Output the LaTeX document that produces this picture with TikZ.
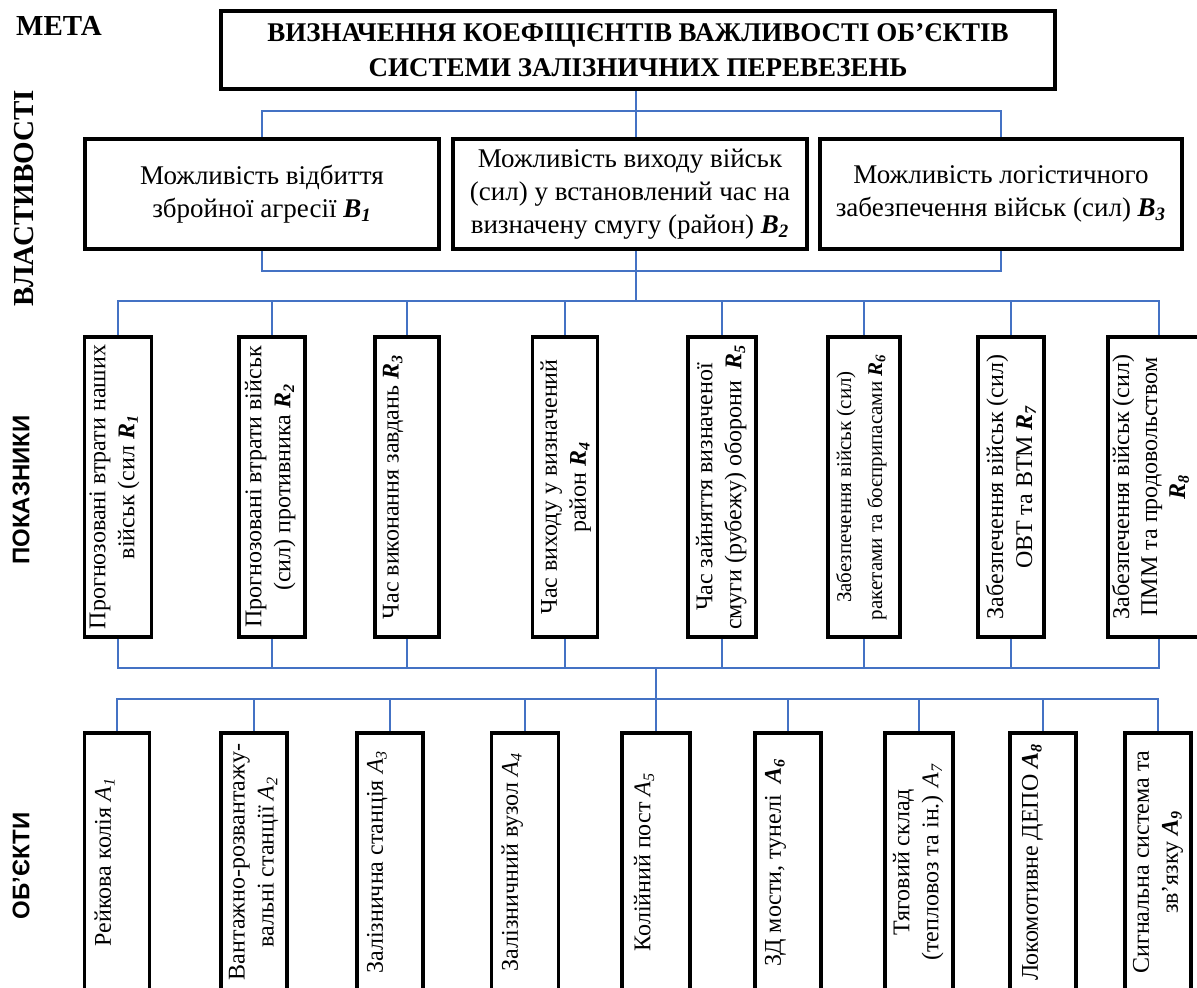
\documentclass[tikz,border=0pt]{standalone}
\usepackage{fontspec}
\usepackage{graphicx}
\setmainfont{Liberation Serif}
\newfontfamily\labelsans{Liberation Sans}

\newcommand{\Bsym}[1]{\textbf{\textit{B\textsubscript{#1}}}}
\newcommand{\Rsym}[1]{\textbf{\textit{R\textsubscript{#1}}}}
\newcommand{\Asym}[1]{\textit{A\textsubscript{#1}}}
\newcommand{\Abold}[1]{\textbf{\textit{A\textsubscript{#1}}}}
\newcommand{\vtext}[4][4pt]{\rotatebox{90}{\parbox[c][#3][t]{#2}{\centering\vspace*{#1}#4}}}

\begin{document}
\begin{tikzpicture}[x=0.5pt,y=-0.5pt,
  box/.style={draw, line width=1.8pt, inner sep=0pt, align=center},
  hbox/.style={box, font=\fontsize{13.5}{16.5}\selectfont},
  vbox/.style={box, font=\fontsize{12}{14.5}\selectfont},
  level/.style={font=\fontsize{14.5}{17}\selectfont\bfseries},
  levelsans/.style={rotate=90, font=\labelsans\fontsize{12}{14}\selectfont\bfseries},
  link/.style={draw=linkblue, line width=0.6pt}]

\definecolor{linkblue}{RGB}{68,114,196}

\useasboundingbox (0,0) rectangle (1197,987);
\clip (0,0) rectangle (1197,987);

\coordinate (J1) at (636,111);
\coordinate (J2) at (636,271);
\coordinate (J3) at (636,301);
\coordinate (J4) at (656,668);
\coordinate (J5) at (656,699);

\node[level] (meta) at (59,26) {МЕТА};
\node[level, rotate=90] (vlast) at (24,198) {ВЛАСТИВОСТІ};
\node[levelsans] (pokaz) at (21,490) {ПОКАЗНИКИ};
\node[levelsans] (obj) at (21,866) {ОБ’ЄКТИ};

\node[hbox, font=\fontsize{13.5}{17.5}\selectfont\bfseries, minimum width=417pt, minimum height=39pt] (goal) at (638,50)
  {ВИЗНАЧЕННЯ КОЕФІЦІЄНТІВ ВАЖЛИВОСТІ ОБ’ЄКТІВ\\СИСТЕМИ ЗАЛІЗНИЧНИХ ПЕРЕВЕЗЕНЬ};

\node[hbox, minimum width=177pt, minimum height=55pt] (b1) at (262,194)
  {Можливість відбиття\\збройної агресії \Bsym{1}};
\node[hbox, minimum width=177pt, minimum height=55pt] (b2) at (630,194)
  {Можливість виходу військ\\(сил) у встановлений час на\\визначену смугу (район) \Bsym{2}};
\node[hbox, minimum width=181pt, minimum height=55pt] (b3) at (1001,194)
  {Можливість логістичного\\забезпечення військ (сил) \Bsym{3}};

\node[vbox] (r1) at (118,487) {\vtext[2.5pt]{150pt}{33.5pt}{Прогнозовані втрати наших\\військ (сил \Rsym{1}}};
\node[vbox] (r2) at (272,487) {\vtext[3pt]{150pt}{33pt}{Прогнозовані втрати військ\\(сил) противника \Rsym{2}}};
\node[vbox] (r3) at (407,487) {\vtext{150pt}{32pt}{Час виконання завдань \Rsym{3}}};
\node[vbox] (r4) at (565,487) {\vtext{150pt}{32.5pt}{Час виходу у визначений\\район \Rsym{4}}};
\node[vbox] (r5) at (722,487) {\vtext{150pt}{34pt}{Час зайняття визначеної\\смуги (рубежу) оборони \ \Rsym{5}}};
\node[vbox, font=\fontsize{10.5}{15.5}\selectfont] (r6) at (864,487) {\vtext{150pt}{36pt}{Забезпечення військ (сил)\\ракетами та боєприпасами \Rsym{6}}};
\node[vbox] (r7) at (1011,487) {\vtext{150pt}{33pt}{Забезпечення військ (сил)\\ОВТ та ВТМ \Rsym{7}}};
\node[vbox, font=\fontsize{12}{14}\selectfont] (r8) at (1159,487) {\vtext[2pt]{150pt}{51pt}{Забезпечення військ (сил)\\ПММ та продовольством\\\Rsym{8}}};

\node[vbox] (a1) at (117,862) {\vtext[5pt]{129pt}{32.5pt}{Рейкова колія \Asym{1}}};
\node[vbox] (a2) at (254,862) {\vtext{129pt}{33pt}{Вантажно-розвантажу-\\вальні станції \Asym{2}}};
\node[vbox] (a3) at (390,862) {\vtext[5pt]{129pt}{33pt}{Залізнична станція \Asym{3}}};
\node[vbox] (a4) at (525,862) {\vtext[5pt]{129pt}{33.5pt}{Залізничний вузол \Asym{4}}};
\node[vbox] (a5) at (656,862) {\vtext[6pt]{129pt}{34pt}{Колійний пост \Asym{5}}};
\node[vbox] (a6) at (788,862) {\vtext[5pt]{129pt}{33pt}{ЗД мости, тунелі \ \Abold{6}}};
\node[vbox] (a7) at (919,862) {\vtext{129pt}{34pt}{Тяговий склад\\(тепловоз та ін.) \Asym{7}}};
\node[vbox] (a8) at (1043,862) {\vtext[6pt]{129pt}{33pt}{Локомотивне ДЕПО \Abold{8}}};
\node[vbox] (a9) at (1158,862) {\vtext{129pt}{33pt}{Сигнальна система та\\зв’язку \Abold{9}}};

\draw[link] (goal.south -| J1) -- (J1 |- b2.north);
\draw[link] (b1.north) |- (J1) -| (b3.north);
\draw[link] (b1.south) |- (J2) -| (b3.south);
\draw[link] (b2.south -| J2) -- (J3);

\draw[link] (r1.north) |- (J3) -| (r8.north);
\foreach \i in {2,...,7}
  \draw[link] (r\i.north) -- (r\i.north |- J3);

\draw[link] (r1.south) |- (J4) -| (r8.south);
\foreach \i in {2,...,7}
  \draw[link] (r\i.south) -- (r\i.south |- J4);
\draw[link] (J4) -- (a5.north);

\draw[link] (a1.north) |- (J5) -| (a9.north);
\foreach \i in {2,3,4,6,7,8}
  \draw[link] (a\i.north) -- (a\i.north |- J5);

\end{tikzpicture}
\end{document}
